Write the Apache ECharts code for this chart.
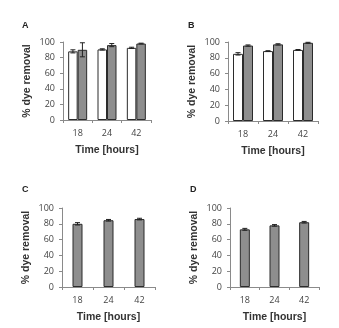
<!DOCTYPE html>
<html><head><meta charset="utf-8">
<script src="https://cdn.jsdelivr.net/npm/echarts@6/dist/echarts.min.js"></script>
<style>html,body{margin:0;padding:0;background:#fff}#c{width:339px;height:328px}</style>
</head><body><div id="c"></div>
<script>
const categories = ['18', '24', '42'];
const yTicks = [0, 20, 40, 60, 80, 100];
const panelTitles = ['A', 'B', 'C', 'D'];
// Panel A
const aWhite = [88, 90.5, 92.5];
const aWhiteErr = [2, 0.8, 0.8];
const aGray = [90, 96, 98];
const aGrayErr = [9, 2, 0.5];
// Panel B
const bWhite = [85, 88.5, 90];
const bWhiteErr = [1.5, 0.5, 0.5];
const bGray = [95.5, 97, 99];
const bGrayErr = [0.8, 0.8, 0.6];
// Panel C
const cGray = [80, 84.5, 86];
const cGrayErr = [1.5, 1, 1];
// Panel D
const dGray = [73, 78, 82];
const dGrayErr = [1.2, 1, 1];

const grids = [
  {left: 63, top: 42, width: 88, height: 78},
  {left: 228, top: 42, width: 90, height: 79},
  {left: 62, top: 208, width: 93, height: 79},
  {left: 230, top: 208, width: 89, height: 79}
];
const titlePos = [[17, 16], [183, 16], [17, 180], [185, 180]];

const axisCol = '#8a8a8a';
const xAxes = grids.map((g, i) => ({
  type: 'category', gridIndex: i, data: categories,
  name: 'Time [hours]', nameLocation: 'middle', nameGap: 25,
  nameTextStyle: {fontFamily: 'Liberation Sans', fontWeight: 'bold', fontSize: 10.5, color: '#333'},
  axisLine: {lineStyle: {color: axisCol}},
  axisTick: {show: true, inside: false, length: 3, lineStyle: {color: axisCol}},
  axisLabel: {fontFamily: 'Open Sans', fontSize: 9, color: '#444', margin: 9}
}));
const yAxes = grids.map((g, i) => ({
  type: 'value', gridIndex: i, min: 0, max: 100, interval: 20,
  name: '% dye removal', nameLocation: 'middle', nameGap: 30, nameRotate: 90,
  nameTextStyle: {fontFamily: 'Liberation Sans', fontWeight: 'bold', fontSize: 10.5, color: '#333'},
  axisLine: {show: true, lineStyle: {color: axisCol}},
  axisTick: {show: true, length: 3, lineStyle: {color: axisCol}},
  splitLine: {show: false},
  axisLabel: {fontFamily: 'Open Sans', fontSize: 9, color: '#444', margin: 8,
    formatter: v => yTicks.includes(v) ? String(v) : ''}
}));

function barSeries(idx, data, fill, bw) {
  return {type: 'bar', xAxisIndex: idx, yAxisIndex: idx, data: data, barWidth: bw, barGap: '0%',
    itemStyle: {color: fill, borderColor: '#2b2b2b', borderWidth: 1}, z: 2, silent: true};
}
function errSeries(idx, vals, errs, offset) {
  return {type: 'custom', xAxisIndex: idx, yAxisIndex: idx, z: 5, silent: true,
    data: vals.map((v, k) => [k, v, errs[k]]),
    renderItem: function (params, api) {
      const x = api.coord([api.value(0), api.value(1)])[0] + offset;
      const hi = api.coord([api.value(0), api.value(1) + api.value(2)])[1];
      const lo = api.coord([api.value(0), api.value(1) - api.value(2)])[1];
      const c = 2.5;
      const st = {stroke: '#222', lineWidth: 1};
      return {type: 'group', children: [
        {type: 'line', shape: {x1: x, y1: hi, x2: x, y2: lo}, style: st},
        {type: 'line', shape: {x1: x - c, y1: hi, x2: x + c, y2: hi}, style: st},
        {type: 'line', shape: {x1: x - c, y1: lo, x2: x + c, y2: lo}, style: st}
      ]};
    }};
}

const gray = '#8e8e8e';
const series = [
  barSeries(0, aWhite, '#ffffff', 9.5), barSeries(0, aGray, gray, 9.5),
  errSeries(0, aWhite, aWhiteErr, -4.75), errSeries(0, aGray, aGrayErr, 4.75),
  barSeries(1, bWhite, '#ffffff', 10), barSeries(1, bGray, gray, 10),
  errSeries(1, bWhite, bWhiteErr, -5), errSeries(1, bGray, bGrayErr, 5),
  barSeries(2, cGray, gray, 10), errSeries(2, cGray, cGrayErr, 0),
  barSeries(3, dGray, gray, 10), errSeries(3, dGray, dGrayErr, 0)
];

const chart = echarts.init(document.getElementById('c'), null, {renderer: 'canvas'});
chart.setOption({
  animation: false,
  backgroundColor: '#fff',
  title: panelTitles.map((t, i) => ({text: t, left: titlePos[i][0], top: titlePos[i][1],
    textStyle: {fontFamily: 'Liberation Sans', fontWeight: 'bold', fontSize: 9, color: '#222'}})),
  grid: grids,
  xAxis: xAxes,
  yAxis: yAxes,
  series: series
});
</script></body></html>
